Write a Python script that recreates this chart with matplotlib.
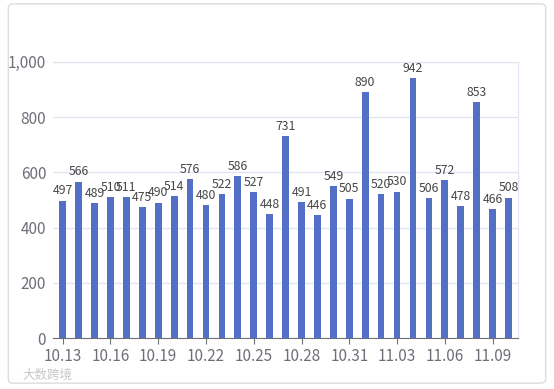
import matplotlib.pyplot as plt
from matplotlib.patches import FancyBboxPatch

plt.rcParams['font.family'] = ['Noto Sans CJK SC', 'DejaVu Sans']

dates = ['10.13', '10.14', '10.15', '10.16', '10.17', '10.18', '10.19', '10.20',
         '10.21', '10.22', '10.23', '10.24', '10.25', '10.26', '10.27', '10.28',
         '10.29', '10.30', '10.31', '11.01', '11.02', '11.03', '11.04', '11.05',
         '11.06', '11.07', '11.08', '11.09', '11.10']
values = [497, 566, 489, 510, 511, 475, 490, 514, 576, 480, 522, 586, 527, 448,
          731, 491, 446, 549, 505, 890, 520, 530, 942, 506, 572, 478, 853, 466, 508]
yticks = [0, 200, 400, 600, 800, 1000]

fig = plt.figure(figsize=(5.54, 3.89), dpi=100)
card = FancyBboxPatch((0.015, 0.015), 0.97, 0.975, boxstyle='round,pad=0,rounding_size=0.01',
                      transform=fig.transFigure, facecolor='white', edgecolor='#dcdcdc',
                      lw=1, zorder=-10)
fig.patches.append(card)

ax = fig.add_axes([0.096, 0.131, 0.839, 0.710])
ax.patch.set_alpha(0)
x = list(range(len(values)))
ax.bar(x, values, width=0.42, color='#5470c6', zorder=3)
for xi, v in zip(x, values):
    ax.text(xi, v + 12, str(v), ha='center', va='bottom', fontsize=8.8, color='#464646', zorder=4)

ax.set_xlim(-0.6, len(values) - 0.4)
ax.set_ylim(0, 1000)
ax.set_yticks(yticks)
ax.set_yticklabels(['{:,}'.format(t) for t in yticks], fontsize=11, color='#6e7079')
ax.set_xticks(x[::3])
ax.set_xticklabels(dates[::3], fontsize=11, color='#6e7079')
ax.grid(axis='y', color='#e0e6f1', lw=0.9, zorder=0)
ax.tick_params(axis='y', length=0, pad=5)
ax.tick_params(axis='x', length=4, color='#6e7079', pad=3)
for s in ['top', 'right']:
    ax.spines[s].set_color('#e0e6f1')
ax.spines['left'].set_visible(False)
ax.spines['bottom'].set_color('#6e7079')

fig.text(0.04, 0.025, '大数跨境', fontsize=9, color='#c8c8c8')

fig.savefig('out.png', dpi=100)
